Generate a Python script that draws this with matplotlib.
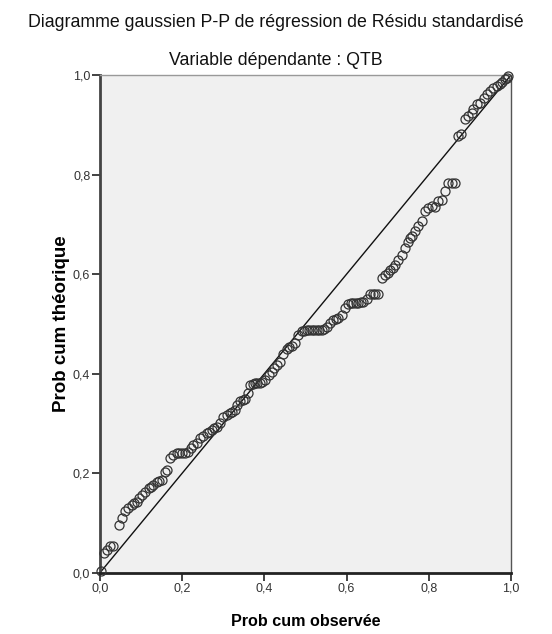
import matplotlib
matplotlib.use("Agg")
import matplotlib.pyplot as plt
from matplotlib.ticker import FuncFormatter

plt.rcParams['font.family'] = ['Liberation Sans', 'DejaVu Sans']

# observed cumulative probability (x) and expected cumulative probability (y)
obs = [0.002, 0.010, 0.016, 0.024, 0.032, 0.045, 0.053, 0.061, 0.069, 0.077,
       0.083, 0.089, 0.095, 0.101, 0.109, 0.118, 0.124, 0.130, 0.138, 0.144,
       0.150, 0.158, 0.164, 0.170, 0.178, 0.187, 0.193, 0.199, 0.207, 0.215,
       0.221, 0.227, 0.235, 0.243, 0.251, 0.260, 0.266, 0.272, 0.278, 0.284,
       0.292, 0.300, 0.308, 0.316, 0.322, 0.328, 0.334, 0.341, 0.347, 0.353,
       0.359, 0.365, 0.371, 0.377, 0.383, 0.389, 0.395, 0.401, 0.410, 0.418,
       0.424, 0.430, 0.438, 0.446, 0.454, 0.460, 0.466, 0.474, 0.482, 0.491,
       0.497, 0.503, 0.509, 0.515, 0.521, 0.527, 0.533, 0.539, 0.545, 0.552,
       0.560, 0.568, 0.574, 0.580, 0.588, 0.596, 0.604, 0.610, 0.616, 0.622,
       0.628, 0.634, 0.641, 0.649, 0.657, 0.663, 0.669, 0.677, 0.685, 0.693,
       0.700, 0.706, 0.712, 0.718, 0.726, 0.734, 0.742, 0.750, 0.754, 0.758,
       0.766, 0.774, 0.783, 0.791, 0.799, 0.807, 0.815, 0.823, 0.831, 0.839,
       0.847, 0.856, 0.864, 0.872, 0.878, 0.888, 0.896, 0.904, 0.908, 0.917,
       0.925, 0.933, 0.941, 0.949, 0.957, 0.965, 0.973, 0.977, 0.985, 0.990,
       0.993]
theo = [0.003, 0.039, 0.046, 0.053, 0.054, 0.096, 0.109, 0.123, 0.129, 0.136,
        0.140, 0.143, 0.150, 0.156, 0.163, 0.170, 0.173, 0.176, 0.183, 0.184,
        0.186, 0.203, 0.207, 0.230, 0.237, 0.240, 0.240, 0.240, 0.241, 0.243,
        0.250, 0.257, 0.260, 0.270, 0.274, 0.280, 0.283, 0.287, 0.290, 0.293,
        0.300, 0.313, 0.316, 0.320, 0.323, 0.327, 0.336, 0.344, 0.347, 0.350,
        0.362, 0.377, 0.379, 0.381, 0.381, 0.381, 0.383, 0.387, 0.397, 0.404,
        0.412, 0.418, 0.424, 0.440, 0.450, 0.453, 0.456, 0.462, 0.478, 0.485,
        0.486, 0.487, 0.487, 0.487, 0.487, 0.487, 0.487, 0.488, 0.490, 0.494,
        0.502, 0.508, 0.510, 0.512, 0.517, 0.532, 0.539, 0.541, 0.542, 0.542,
        0.542, 0.543, 0.543, 0.549, 0.559, 0.560, 0.560, 0.560, 0.592, 0.599,
        0.603, 0.608, 0.613, 0.619, 0.629, 0.639, 0.653, 0.665, 0.673, 0.676,
        0.686, 0.696, 0.706, 0.726, 0.733, 0.736, 0.735, 0.746, 0.748, 0.767,
        0.783, 0.783, 0.783, 0.877, 0.881, 0.911, 0.917, 0.924, 0.931, 0.941,
        0.944, 0.954, 0.961, 0.968, 0.974, 0.978, 0.981, 0.986, 0.991, 0.994,
        0.998]
ticks = [0.0, 0.2, 0.4, 0.6, 0.8, 1.0]

fig = plt.figure(figsize=(5.52, 6.34), dpi=100)
ax = fig.add_axes([0.1812, 0.0967, 0.7446, 0.785])
ax.set_facecolor('#f0f0f0')

ax.plot([0, 1], [0, 1], color='#111111', lw=1.0, zorder=2)
ax.plot(obs, theo, linestyle='none', marker='o', markersize=6.5,
        markerfacecolor='none', markeredgecolor='#333333', markeredgewidth=0.9,
        zorder=3, clip_on=False)

ax.set_xlim(0, 1)
ax.set_ylim(0, 1)
ax.set_xticks(ticks)
ax.set_yticks(ticks)
fmt = FuncFormatter(lambda v, p: f"{v:.1f}".replace('.', ','))
ax.xaxis.set_major_formatter(fmt)
ax.yaxis.set_major_formatter(fmt)
ax.tick_params(direction='out', length=6, width=1.2, color='#222222',
               labelsize=9, labelcolor='#333333', pad=1)

ax.spines['left'].set_linewidth(2.0)
ax.spines['left'].set_color('#444444')
ax.spines['bottom'].set_linewidth(2.0)
ax.spines['bottom'].set_color('#222222')
ax.spines['top'].set_linewidth(1.0)
ax.spines['top'].set_color('#999999')
ax.spines['right'].set_linewidth(1.0)
ax.spines['right'].set_color('#555555')

ax.set_xlabel('Prob cum observée', fontsize=11.6, fontweight='bold', labelpad=14)
ax.set_ylabel('Prob cum théorique', fontsize=13.5, fontweight='bold', labelpad=2)

fig.text(0.5, 0.965, 'Diagramme gaussien P-P de régression de Résidu standardisé',
         ha='center', va='center', fontsize=12.8, color='#111111')
fig.text(0.5, 0.905, 'Variable dépendante : QTB',
         ha='center', va='center', fontsize=12.8, color='#111111')

fig.savefig('out.png', dpi=100)
